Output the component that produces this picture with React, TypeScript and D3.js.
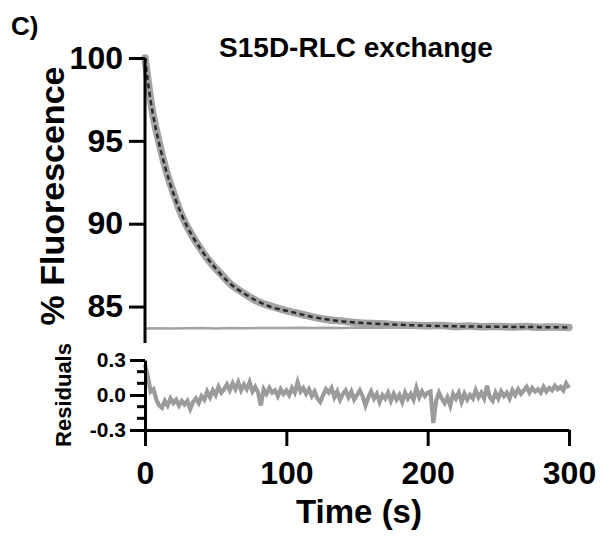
import { useEffect, useRef } from 'react';
import * as d3 from 'd3';

// fitted single exponential (dashed)
const fitTimes = [0, 4, 8, 14, 21, 30, 40, 50, 60, 70, 80, 90, 100, 120, 140, 160, 180, 200, 225, 250, 275, 300];
const fitValues = [100, 97.4, 95.6, 93.5, 91.6, 89.8, 88.4, 87.3, 86.4, 85.8, 85.3, 84.95, 84.75, 84.35, 84.1, 83.98, 83.9, 83.84, 83.8, 83.78, 83.76, 83.74];

// measured trace (thick grey band)
const traceTimes = [0, 2, 5, 10, 15, 20, 25, 30, 35, 40, 45, 50, 55, 60, 70, 80, 90, 100, 110, 120, 130, 140, 150, 160, 170, 180, 190, 200, 210, 220, 230, 240, 250, 260, 270, 280, 290, 300];
const traceValues = [100, 98.7, 96.9, 94.9, 93.2, 91.9, 90.7, 89.8, 89.05, 88.4, 87.8, 87.3, 86.85, 86.4, 85.8, 85.3, 85.0, 84.75, 84.55, 84.35, 84.2, 84.12, 84.02, 83.97, 83.95, 83.88, 83.87, 83.84, 83.86, 83.8, 83.82, 83.78, 83.8, 83.76, 83.79, 83.75, 83.77, 83.74];

// control trace (flat thin grey line)
const controlTimes = [0, 10, 20, 30, 40, 50, 60, 70, 80, 90, 100, 110, 120, 130, 140, 150, 160, 170, 180, 190, 200, 210, 220, 230, 240, 250, 260, 270, 280, 290, 300];
const controlValues = [83.68, 83.69, 83.67, 83.69, 83.7, 83.68, 83.7, 83.69, 83.71, 83.7, 83.7, 83.72, 83.71, 83.72, 83.71, 83.73, 83.72, 83.72, 83.74, 83.73, 83.73, 83.74, 83.72, 83.74, 83.75, 83.73, 83.74, 83.75, 83.74, 83.75, 83.74];

// residuals, every 2 s (one row = 20 s)
const residualValues = [
  0.26, 0.16, 0.03, 0.05, -0.04, -0.09, -0.11, -0.05, -0.09, -0.03,
  -0.07, -0.04, -0.09, -0.05, -0.08, -0.05, -0.12, -0.06, -0.03, -0.07,
  -0.01, -0.04, 0.03, -0.02, 0.04, 0.0, 0.07, 0.02, 0.05, 0.09,
  0.04, 0.1, 0.05, 0.11, 0.04, 0.09, 0.05, 0.11, 0.03, 0.07,
  0.02, -0.09, 0.05, 0.01, 0.06, 0.02, 0.04, -0.01, 0.05, 0.01,
  0.04, 0.0, 0.06, 0.02, 0.11, 0.03, 0.06, 0.01, 0.05, -0.01,
  0.03, -0.03, -0.06, 0.0, 0.05, 0.02, 0.06, -0.02, 0.03, -0.04,
  0.01, 0.04, -0.02, 0.03, -0.04, 0.0, 0.04, -0.01, -0.09, -0.02,
  0.03, -0.03, 0.01, -0.06, 0.0, -0.03, 0.02, -0.05, 0.01, -0.04,
  0.0, -0.06, 0.02, -0.03, 0.01, -0.04, 0.06, -0.02, 0.03, -0.01,
  0.02, 0.03, -0.24, -0.05, 0.02, -0.03, -0.07, -0.02, -0.09, 0.01,
  -0.03, 0.02, -0.06, 0.01, -0.04, 0.0, -0.03, 0.04, -0.02, 0.02,
  -0.03, 0.08, -0.02, -0.05, 0.02, -0.03, 0.03, -0.01, 0.02, -0.03,
  0.04, 0.0, 0.05, 0.01, 0.04, 0.07, 0.02, 0.06, 0.03, 0.05,
  0.02, 0.07, 0.03, 0.06, 0.04, 0.08, 0.05, 0.07, 0.04, 0.1,
  0.06,
];
const residualTimes = residualValues.map((_, i) => i * 2);

const mainTicks = [85, 90, 95, 100];
const residMajor = [-0.3, 0, 0.3];
const residMinor = [-0.2, -0.1, 0.1, 0.2];
const timeTicks = [0, 100, 200, 300];

const FONT = "'Liberation Sans', Arial, sans-serif";

const App = () => {
  const svgRef = useRef<SVGSVGElement | null>(null);

  useEffect(() => {
    document.body.style.margin = '0';
    const svg = d3.select(svgRef.current);
    svg.selectAll('*').remove();

    const x = d3.scaleLinear().domain([0, 300]).range([145, 569]);
    const y = d3.scaleLinear().domain([82.8, 100]).range([343, 58]);
    const yr = d3.scaleLinear().domain([-0.3, 0.3]).range([430, 360]);

    const grey = '#a3a3a3';

    // main panel
    const traceLine = d3.line<number>()
      .x((_, i) => x(traceTimes[i]))
      .y(d => y(d))
      .curve(d3.curveMonotoneX);
    const fitLine = d3.line<number>()
      .x((_, i) => x(fitTimes[i]))
      .y(d => y(d))
      .curve(d3.curveMonotoneX);
    const controlLine = d3.line<number>()
      .x((_, i) => x(controlTimes[i]))
      .y(d => y(d));

    svg.append('path')
      .attr('d', controlLine(controlValues))
      .attr('fill', 'none')
      .attr('stroke', grey)
      .attr('stroke-width', 2.5);

    svg.append('path')
      .attr('d', traceLine(traceValues))
      .attr('fill', 'none')
      .attr('stroke', grey)
      .attr('stroke-width', 7.5)
      .attr('stroke-linecap', 'round');

    svg.append('path')
      .attr('d', fitLine(fitValues))
      .attr('fill', 'none')
      .attr('stroke', '#2a2a2a')
      .attr('stroke-width', 2.5)
      .attr('stroke-dasharray', '5,3.5');

    const axMain = svg.append('g')
      .attr('transform', 'translate(145,0)')
      .call(d3.axisLeft(y).tickValues(mainTicks).tickSize(16).tickPadding(6).tickSizeOuter(0));
    axMain.select('.domain').attr('d', `M0,${y(100)}V343`);
    axMain.selectAll('line, path').attr('stroke', '#000').attr('stroke-width', 3);
    axMain.selectAll('text')
      .style('font-family', FONT)
      .style('font-weight', 'bold')
      .style('font-size', '32px')
      .attr('fill', '#000');

    // residual panel
    const residLine = d3.line<number>()
      .x((_, i) => x(residualTimes[i]))
      .y(d => yr(d));
    svg.append('path')
      .attr('d', residLine(residualValues))
      .attr('fill', 'none')
      .attr('stroke', '#9b9b9b')
      .attr('stroke-width', 4.2);

    const axRes = svg.append('g')
      .attr('transform', 'translate(145,0)')
      .call(d3.axisLeft(yr).tickValues(residMajor).tickFormat(d3.format('.1f')).tickSize(15).tickPadding(4).tickSizeOuter(0));
    axRes.selectAll('line, path').attr('stroke', '#000').attr('stroke-width', 3);
    axRes.selectAll('text')
      .text(d => (d as number) < 0 ? `-${Math.abs(d as number).toFixed(1)}` : (d as number).toFixed(1))
      .style('font-family', FONT)
      .style('font-weight', 'bold')
      .style('font-size', '21px')
      .attr('fill', '#000');

    svg.append('g')
      .selectAll('line')
      .data(residMinor)
      .join('line')
      .attr('x1', 137)
      .attr('x2', 145)
      .attr('y1', d => yr(d))
      .attr('y2', d => yr(d))
      .attr('stroke', '#000')
      .attr('stroke-width', 3);

    const axX = svg.append('g')
      .attr('transform', `translate(0,${yr(-0.3)})`)
      .call(d3.axisBottom(x).tickValues(timeTicks).tickSize(16).tickPadding(15).tickSizeOuter(0));
    axX.selectAll('line, path').attr('stroke', '#000').attr('stroke-width', 3);
    axX.selectAll('text')
      .style('font-family', FONT)
      .style('font-weight', 'bold')
      .style('font-size', '32px')
      .attr('fill', '#000');

    // labels
    const label = (txt: string, size: number) => svg.append('text')
      .text(txt)
      .style('font-family', FONT)
      .style('font-weight', 'bold')
      .style('font-size', `${size}px`)
      .attr('fill', '#000');

    label('C)', 26).attr('x', 11).attr('y', 35);
    label('S15D-RLC exchange', 28).attr('x', 356).attr('y', 57).attr('text-anchor', 'middle');
    label('% Fluorescence', 34)
      .attr('text-anchor', 'middle')
      .attr('transform', 'translate(64,196) rotate(-90)');
    label('Residuals', 22)
      .attr('text-anchor', 'middle')
      .attr('transform', 'translate(71,395) rotate(-90)');
    label('Time (s)', 33).attr('x', 359).attr('y', 523).attr('text-anchor', 'middle');
  }, []);

  return (
    <svg ref={svgRef} width={603} height={536} style={{ display: 'block', background: '#fff' }} />
  );
};

export default App;
